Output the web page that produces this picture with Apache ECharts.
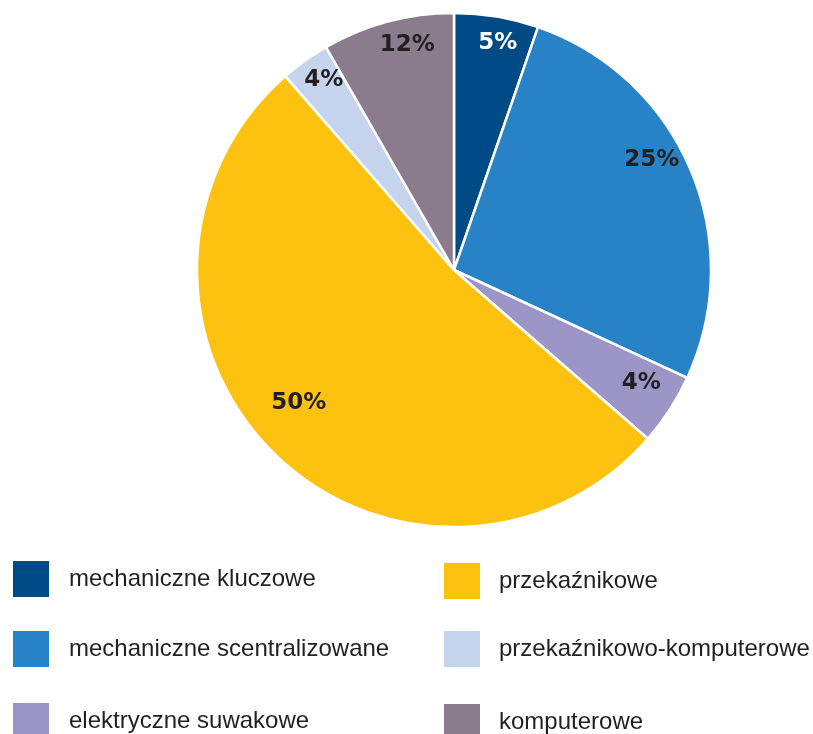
<!DOCTYPE html>
<html><head><meta charset="utf-8">
<script src="https://cdn.jsdelivr.net/npm/echarts@6/dist/echarts.min.js"></script>
<style>html,body{margin:0;padding:0;background:#fff}#c{width:813px;height:734px}</style>
</head><body><div id="c"></div>
<script>
const categories = ['mechaniczne kluczowe','mechaniczne scentralizowane','elektryczne suwakowe','przekaźnikowe','przekaźnikowo-komputerowe','komputerowe'];
const values = [5.3, 26.6, 4.5, 52.2, 3.1, 8.3];
const labels = ['5%','25%','4%','50%','4%','12%'];

// styling
const colors = ['#004b85','#2883c6','#9c96c8','#fdc20f','#c5d4ec','#8a7c8d'];
const labelColors = ['#ffffff','#231f20','#231f20','#231f20','#231f20','#231f20'];
const labelNudge = [[6,-2],[-12,-21],[-4,-11],[6,-28],[2,-4],[12,-5]];
const legendLeft = [11, 11, 11, 442, 442, 442];
const legendTop = [559, 629, 701, 561, 629, 702];
const legendTextPad = [14, 14, 14, 13, 13, 13];

const chart = echarts.init(document.getElementById('c'));
const pieData = categories.map((n,i)=>({name:n,value:values[i],itemStyle:{color:colors[i]}}));
const labelData = categories.map((n,i)=>({name:n,value:values[i],label:{color:labelColors[i],formatter:labels[i]}}));
const legends = categories.map((n,i)=>({
  orient:'horizontal', icon:'rect', itemWidth:38, itemHeight:38,
  selectedMode:false, padding:0, left:legendLeft[i], top:legendTop[i],
  data:[{name:n,itemStyle:{color:colors[i]}}],
  textStyle:{fontFamily:'Liberation Sans, Arial, sans-serif', fontSize:24, color:'#231f20', padding:[0,0,2,legendTextPad[i]]}
}));
chart.setOption({
  animation:false,
  legend:legends,
  series:[
    {type:'pie', center:[454,270], radius:[0,257], startAngle:90, clockwise:true,
     label:{show:false}, labelLine:{show:false}, silent:true,
     itemStyle:{borderColor:'#ffffff', borderWidth:2.5},
     data:pieData},
    {type:'pie', center:[454,270], radius:[193,257], startAngle:90, clockwise:true,
     silent:true, itemStyle:{color:'rgba(0,0,0,0)'}, labelLine:{show:false},
     label:{show:true, position:'inside', fontFamily:'DejaVu Sans, sans-serif', fontWeight:'bold', fontSize:23},
     labelLayout:(p)=>({dx:labelNudge[p.dataIndex][0], dy:labelNudge[p.dataIndex][1]}),
     data:labelData}
  ]
});
</script></body></html>
